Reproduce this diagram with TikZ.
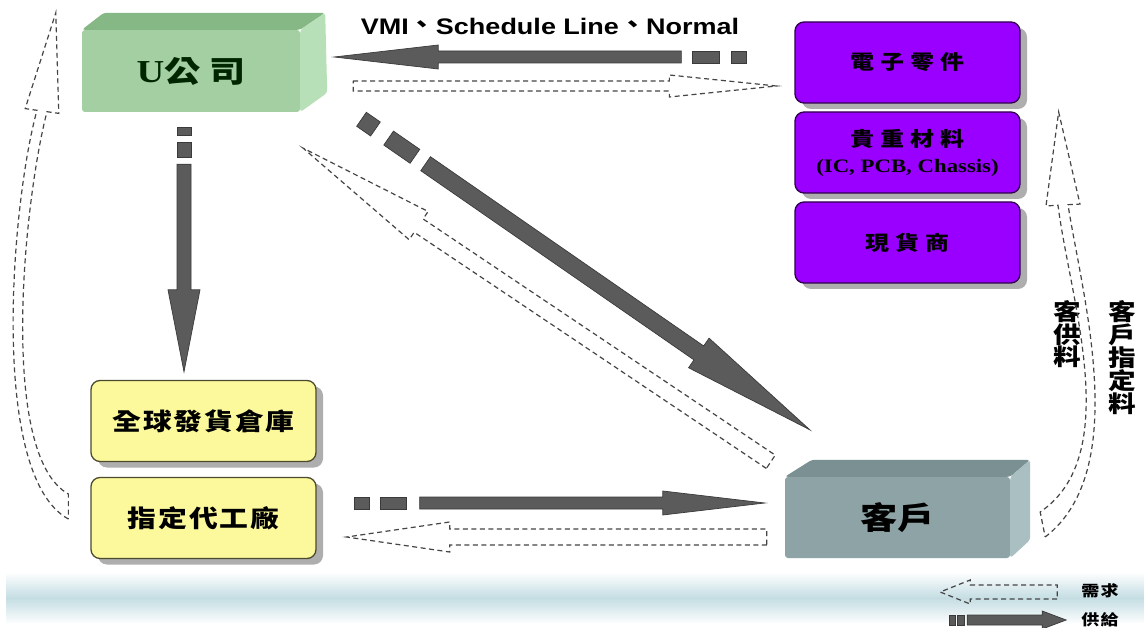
\documentclass[tikz,border=0pt]{standalone}
\usepackage{fontspec}
\setmainfont{Liberation Serif}[FakeStretch=1.2]
\newfontfamily\cjk{Noto Sans CJK TC}[FakeStretch=1.2]
\newfontfamily\cjkwide{Noto Sans CJK TC}[FakeStretch=1.2,LetterSpace=30]
\newfontfamily\cjkmid{Noto Sans CJK TC}[FakeStretch=1.2,LetterSpace=8]
\newfontfamily\headsans{Liberation Sans}[FakeStretch=1.2]
\usetikzlibrary{calc,shadows}

\definecolor{arrowfill}{HTML}{5B5B5B}
\definecolor{arrowedge}{HTML}{3A3A3A}
\definecolor{dashink}{HTML}{454545}
\definecolor{greenfront}{HTML}{A3CFA3}
\definecolor{greentop}{HTML}{86B886}
\definecolor{greenside}{HTML}{B8E0B8}
\definecolor{grayfront}{HTML}{8EA3A6}
\definecolor{graytop}{HTML}{7B9093}
\definecolor{grayside}{HTML}{A9BFC1}
\definecolor{vivid}{HTML}{9900FF}
\definecolor{pale}{HTML}{FCF89C}
\definecolor{band}{HTML}{C4DDE3}

% block arrow: [style]{from}{to}{body start}{half body}{half head}{head length}
\newcommand\blockarrow[7][]{%
  \coordinate (ba-s) at ($(#2)!#4!(#3)$);
  \coordinate (ba-h) at ($(#3)!#7!(#2)$);
  \path[#1] ($(ba-s)!#5!90:(#3)$) -- ($(ba-h)!#5!90:(#3)$) -- ($(ba-h)!#6!90:(#3)$)
    -- (#3) -- ($(ba-h)!#6!-90:(#3)$) -- ($(ba-h)!#5!-90:(#3)$) -- ($(ba-s)!#5!-90:(#3)$) -- cycle;}
% one dash of a block arrow tail: [style]{from}{to}{d1}{d2}{half width}
\newcommand\blockpiece[6][]{%
  \coordinate (bp-a) at ($(#2)!#4!(#3)$);
  \coordinate (bp-b) at ($(#2)!#5!(#3)$);
  \path[#1] ($(bp-a)!#6!90:(#3)$) -- ($(bp-b)!#6!90:(#3)$) -- ($(bp-b)!#6!-90:(#3)$)
    -- ($(bp-a)!#6!-90:(#3)$) -- cycle;}
\newcommand\dunhao{\raisebox{2pt}{\cjk 、}}

\begin{document}
\begin{tikzpicture}[x=1pt,y=-1pt,
  supply/.style={fill=arrowfill, draw=arrowedge, line width=0.7pt, line join=miter},
  demand/.style={draw=dashink, line width=1.2pt, dash pattern=on 5pt off 3.5pt},
  facebox/.style={rectangle, rounded corners=3pt, inner sep=0pt},
  plate/.style={rectangle, rounded corners=9pt, draw=#1!30!black, line width=1.3pt, fill=#1,
    minimum width=225pt, inner sep=0pt, align=center,
    drop shadow={shadow xshift=7pt, shadow yshift=-6pt, fill=black!45, opacity=0.7}},
  purplebox/.style={plate=vivid, minimum height=81pt, font={\cjkwide\bfseries\fontsize{20}{24}\selectfont}},
  yellowbox/.style={plate=pale, minimum height=81pt, font={\cjkmid\bfseries\fontsize{24}{28}\selectfont}},
  vlabel/.style={inner sep=0pt, align=center, anchor=north, font={\cjk\bfseries\fontsize{23}{21.6}\selectfont}},
  legendtext/.style={inner sep=0pt, font={\cjkmid\bfseries\fontsize{15}{18}\selectfont}}]

\useasboundingbox (0,0) rectangle (1144,628);
\fill[white] (0,0) rectangle (1144,628);
\shade[top color=white, bottom color=white, middle color=band] (6,572) rectangle (1144,624);

% U company, 3D block
\node[facebox, fill=greenfront, minimum width=218pt, minimum height=82pt, text=black!85!green]
  (ucomp) at (191,71) {\fontsize{32}{32}\selectfont\bfseries U{\cjkwide\fontsize{30}{30}\selectfont 公司}};
\fill[greentop, rounded corners=3pt] (ucomp.north west) -- ++(22,-17) -- ($(ucomp.north east)+(25,-17)$) -- (ucomp.north east) -- cycle;
\fill[greenside, rounded corners=3pt] (ucomp.north east) -- ++(25,-17) -- ++(2,80) -- (ucomp.south east) -- cycle;

% customer, 3D block
\node[facebox, fill=grayfront, minimum width=225pt, minimum height=81pt]
  (cust) at (897.5,517.5) {\cjk\bfseries\fontsize{31}{31}\selectfont 客戶};
\fill[graytop, rounded corners=3pt] (cust.north west) -- ++(27,-17) -- ($(cust.north east)+(20,-17)$) -- (cust.north east) -- cycle;
\fill[grayside, rounded corners=3pt] (cust.north east) -- ++(20,-17) -- ++(0,80) -- (cust.south east) -- cycle;

% suppliers
\node[purplebox] (elec) at (907.5,62.5) {電子零件};
\node[purplebox] (prec) at (907.5,152.5) {貴重材料\\[2pt]{\rmfamily\bfseries\fontsize{19}{22}\selectfont (IC, PCB, Chassis)}};
\node[purplebox] (spot) at (907.5,242.5) {現貨商};

% warehouse and contract factory
\node[yellowbox] (ware) at (203.5,421) {全球發貨倉庫};
\node[yellowbox] (oem) at (203.5,518) {指定代工廠};

% labels
\node[inner sep=0pt, font={\headsans\bfseries\fontsize{22.5}{26}\selectfont}] (vmi) at (550,26)
  {VMI\dunhao Schedule Line\dunhao Normal};
\node[vlabel] (cs) at (1067,300) {客\\供\\料};
\node[vlabel] (cd) at (1122,300) {客\\戶\\指\\定\\料};
\node[legendtext] (lgd) at (1100,591) {需求};
\node[legendtext] (lgs) at (1100,620) {供給};

% supplier -> U company (supply) and demand back
\coordinate (t-tail) at ($(elec.west)+(-48,-5.5)$);
\coordinate (t-tip) at ($(ucomp.east)+(34,-14)$);
\blockpiece[supply]{t-tail}{t-tip}{0pt}{15pt}{6pt}
\blockpiece[supply]{t-tail}{t-tip}{27pt}{54pt}{6pt}
\blockarrow[supply]{t-tail}{t-tip}{65pt}{6pt}{12pt}{104pt}
\coordinate (td-tail) at ($(ucomp.east)+(53,15)$);
\coordinate (td-tip) at ($(elec.west)+(-18,23.5)$);
\blockarrow[demand]{td-tail}{td-tip}{0pt}{5pt}{11pt}{107pt}

% U company -> customer
\coordinate (g-tail) at ($(ucomp.south east)+(61.3,7.1)$);
\coordinate (g-tip) at ($(cust.north west)+(25,-47)$);
\blockpiece[supply]{g-tail}{g-tip}{0pt}{17pt}{8.5pt}
\blockpiece[supply]{g-tail}{g-tip}{33pt}{65pt}{8.5pt}
\blockarrow[supply]{g-tail}{g-tip}{78pt}{8.5pt}{18pt}{135pt}
\coordinate (gd-tail) at ($(cust.north west)+(-14,-15)$);
\coordinate (gd-tip) at ($(ucomp.south east)+(3,36)$);
\blockarrow[demand]{gd-tail}{gd-tip}{0pt}{8pt}{17pt}{139pt}

% U company -> warehouse
\coordinate (v-tail) at ($(ucomp.south)+(-7,15)$);
\coordinate (v-tip) at ($(ware.north)+(-19.5,-8)$);
\blockpiece[supply]{v-tail}{v-tip}{0pt}{8pt}{7pt}
\blockpiece[supply]{v-tail}{v-tip}{15pt}{30pt}{7pt}
\blockarrow[supply]{v-tail}{v-tip}{37pt}{7pt}{16pt}{82pt}

% contract factory -> customer
\coordinate (b-tail) at ($(oem.east)+(38,-15)$);
\coordinate (b-tip) at ($(cust.west)+(-20,-14.5)$);
\blockpiece[supply]{b-tail}{b-tip}{0pt}{15pt}{6pt}
\blockpiece[supply]{b-tail}{b-tip}{26pt}{52pt}{6pt}
\blockarrow[supply]{b-tail}{b-tip}{65pt}{6pt}{12pt}{102pt}
\coordinate (bd-tail) at ($(cust.west)+(-18,19.5)$);
\coordinate (bd-tip) at ($(oem.east)+(30,19)$);
\blockarrow[demand]{bd-tail}{bd-tip}{0pt}{8pt}{15pt}{103pt}

% curved demand arrow: contract factory -> U company
\coordinate (l-out) at ($(oem.west)+(-22,1)$);
\coordinate (l-in) at ($(oem.west)+(-22,-24)$);
\coordinate (l-tip) at ($(ucomp.north west)+(-26,-17)$);
\draw[demand] (l-out) .. controls (-12,475) and (12,200) .. (37,110.3)
  -- (25.2,108.6) -- (l-tip) -- (58.8,113.4) -- (47,111.7)
  .. controls (24,200) and (-2,455) .. (l-in) -- cycle;

% curved demand arrow: customer -> suppliers
\coordinate (r-out) at ($(cust.east)+(35,19.5)$);
\coordinate (r-in) at ($(cust.east)+(30,-5.5)$);
\coordinate (r-tip) at ($(prec.east)+(38,-40.5)$);
\draw[demand] (r-out) .. controls (1132,470) and (1082,295) .. (1068,204.7)
  -- (1080,204.1) -- (r-tip) -- (1046,205.9) -- (1058,205.3)
  .. controls (1070,300) and (1124,455) .. (r-in) -- cycle;

% legend
\coordinate (ld-tail) at ($(lgd.west)+(-24,1)$);
\coordinate (ld-tip) at ($(lgd.west)+(-141,1)$);
\blockarrow[demand]{ld-tail}{ld-tip}{0pt}{7pt}{12pt}{30pt}
\coordinate (ls-tail) at ($(lgs.west)+(-132,0)$);
\coordinate (ls-tip) at ($(lgs.west)+(-15,0)$);
\blockpiece[supply]{ls-tail}{ls-tip}{0pt}{6pt}{5pt}
\blockpiece[supply]{ls-tail}{ls-tip}{8pt}{15pt}{5pt}
\blockarrow[supply]{ls-tail}{ls-tip}{18pt}{5pt}{9pt}{24pt}
\end{tikzpicture}
\end{document}
